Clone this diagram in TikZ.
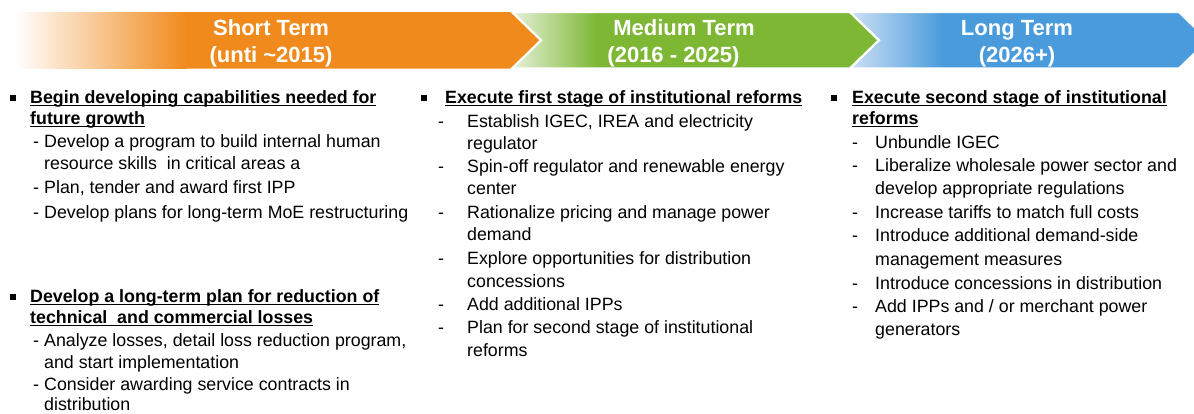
\documentclass[tikz,border=0pt]{standalone}
\usepackage{fontspec}
\setmainfont{Liberation Sans}
\newsavebox\ulbox
\newcommand\ulh[1]{\sbox\ulbox{#1}\rlap{\rule[-3.4pt]{\wd\ulbox}{1.3pt}}\usebox\ulbox}
\newcommand\bodyfont{\fontsize{17.8}{21}\selectfont}
\newcommand\hdrfont{\fontsize{22}{26}\selectfont}
\definecolor{orgC}{HTML}{F08A1C}
\definecolor{grnC}{HTML}{7DB734}
\definecolor{grnL}{HTML}{E6F1DA}
\definecolor{bluC}{HTML}{4A9BDC}
\definecolor{bluL}{HTML}{CDE0F4}
\tikzset{
  body/.style={anchor=base west, inner sep=0pt, font=\bodyfont, text=black},
  head/.style={body, font=\bodyfont\bfseries},
  bul/.style={fill=black, minimum size=5.5pt, inner sep=0pt},
  hdr/.style={anchor=base, inner sep=0pt, text=white, font=\hdrfont\bfseries},
  sep/.style={draw=white, line width=2.2pt, line join=miter}
}
\begin{document}
\begin{tikzpicture}[x=1pt, y=-1pt]
\useasboundingbox (0,0) rectangle (1194,413);
% ---------- header band ----------
\fill[orgC] (15,12) -- (512,12) -- (541,40.25) -- (512,68.5) -- (15,68.5) -- cycle;
\shade[left color=white, right color=orgC] (15,12) rectangle (187,68.5);
% medium
\fill[grnC] (512,12) -- (850,12) -- (879,40.25) -- (850,68.5) -- (512,68.5) -- (541,40.25) -- cycle;
\begin{scope}
\clip (512,12) -- (850,12) -- (879,40.25) -- (850,68.5) -- (512,68.5) -- (541,40.25) -- cycle;
\shade[left color=grnL, right color=grnC] (512,12) rectangle (597,68.5);
\end{scope}
\draw[sep] (512,12) -- (850,12) -- (879,40.25) -- (850,68.5) -- (512,68.5) -- (541,40.25) -- cycle;
% long
\fill[bluC] (850,12) -- (1179,12) -- (1208,40.25) -- (1179,68.5) -- (850,68.5) -- (879,40.25) -- cycle;
\begin{scope}
\clip (850,12) -- (1179,12) -- (1208,40.25) -- (1179,68.5) -- (850,68.5) -- (879,40.25) -- cycle;
\shade[left color=bluL, right color=bluC] (850,12) rectangle (943,68.5);
\end{scope}
\draw[sep] (850,12) -- (1179,12) -- (1208,40.25) -- (1179,68.5) -- (850,68.5) -- (879,40.25) -- cycle;
% header texts
\node[hdr] (st1) at (271,35.5) {Short Term};
\node[hdr] (st2) at (271,62) {(unti \textasciitilde 2015)};
\node[hdr] (mt1) at (684,35.5) {Medium Term};
\node[hdr] (mt2) at (673.5,62) {(2016 - 2025)};
\node[hdr] (lt1) at (1017,35.5) {Long Term};
\node[hdr] (lt2) at (1017,62) {(2026+)};
% ---------- column 1 ----------
\node[bul] (b1) at (13,98) {};
\node[head] (c1h1) at (30,103) {\ulh{Begin developing capabilities needed for}};
\node[head] (c1h2) at (30,124) {\ulh{future growth}};
\node[body] (c1d1) at (33,147) {-};
\node[body] (c1a1) at (44,147) {Develop a program to build internal human};
\node[body] (c1a2) at (44,169.5) {resource skills\ \ in critical areas a};
\node[body] (c1d2) at (33,193.5) {-};
\node[body] (c1b1) at (44,193.5) {Plan, tender and award first IPP};
\node[body] (c1d3) at (33,218) {-};
\node[body] (c1c1) at (44,218) {Develop plans for long-term MoE restructuring};
\node[bul] (b2) at (13,297) {};
\node[head] (c1h3) at (30,302) {\ulh{Develop a long-term plan for reduction of}};
\node[head] (c1h4) at (30,323) {\ulh{technical\ \ and commercial losses}};
\node[body] (c1d4) at (33,346) {-};
\node[body] (c1e1) at (44,346) {Analyze losses, detail loss reduction program,};
\node[body] (c1e2) at (44,368) {and start implementation};
\node[body] (c1d5) at (33,390) {-};
\node[body] (c1f1) at (44,390) {Consider awarding service contracts in};
\node[body] (c1f2) at (44,410.5) {distribution};
% ---------- column 2 ----------
\node[bul] (b3) at (424,98) {};
\node[head] (c2h1) at (445,103) {\ulh{Execute first stage of institutional reforms}};
\node[body] (c2d1) at (438,127) {-};
\node[body] (c2a1) at (467,127) {Establish IGEC, IREA and electricity};
\node[body] (c2a2) at (467,149) {regulator};
\node[body] (c2d2) at (438,172) {-};
\node[body] (c2b1) at (467,172) {Spin-off regulator and renewable energy};
\node[body] (c2b2) at (467,194.5) {center};
\node[body] (c2d3) at (438,218) {-};
\node[body] (c2c1) at (467,218) {Rationalize pricing and manage power};
\node[body] (c2c2) at (467,240.5) {demand};
\node[body] (c2d4) at (438,264) {-};
\node[body] (c2e1) at (467,264) {Explore opportunities for distribution};
\node[body] (c2e2) at (467,287) {concessions};
\node[body] (c2d5) at (438,310) {-};
\node[body] (c2f1) at (467,310) {Add additional IPPs};
\node[body] (c2d6) at (438,333.5) {-};
\node[body] (c2g1) at (467,333.5) {Plan for second stage of institutional};
\node[body] (c2g2) at (467,356.5) {reforms};
% ---------- column 3 ----------
\node[bul] (b4) at (834,98) {};
\node[head] (c3h1) at (852,103) {\ulh{Execute second stage of institutional}};
\node[head] (c3h2) at (852,124) {\ulh{reforms}};
\node[body] (c3d1) at (852,148) {-};
\node[body] (c3a1) at (875,148) {Unbundle IGEC};
\node[body] (c3d2) at (852,171) {-};
\node[body] (c3b1) at (875,171) {Liberalize wholesale power sector and};
\node[body] (c3b2) at (875,194) {develop appropriate regulations};
\node[body] (c3d3) at (852,218) {-};
\node[body] (c3c1) at (875,218) {Increase tariffs to match full costs};
\node[body] (c3d4) at (852,241.5) {-};
\node[body] (c3e1) at (875,241.5) {Introduce additional demand-side};
\node[body] (c3e2) at (875,265) {management measures};
\node[body] (c3d5) at (852,289) {-};
\node[body] (c3f1) at (875,289) {Introduce concessions in distribution};
\node[body] (c3d6) at (852,312.5) {-};
\node[body] (c3g1) at (875,312.5) {Add IPPs and / or merchant power};
\node[body] (c3g2) at (875,335) {generators};
\end{tikzpicture}
\end{document}
